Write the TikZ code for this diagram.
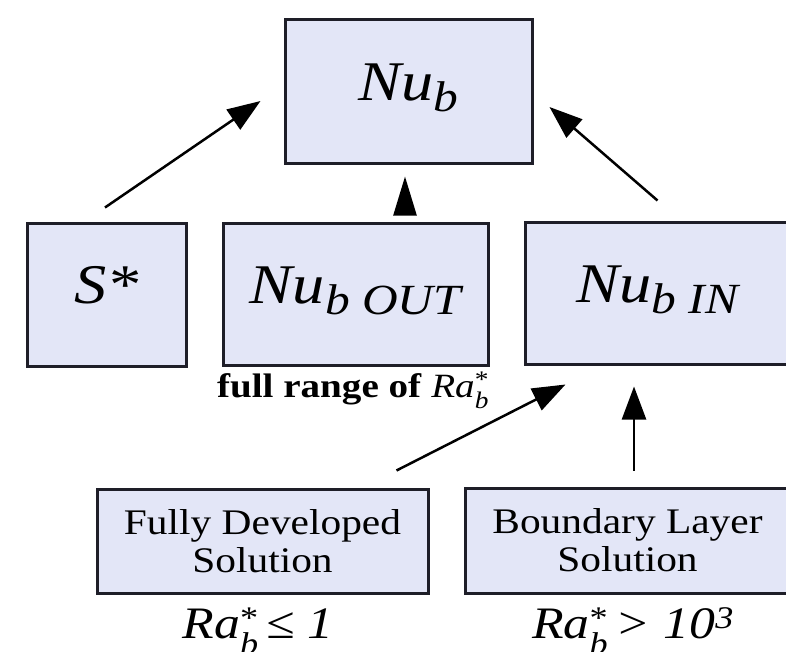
\documentclass[tikz,border=0pt]{standalone}
\usepackage{fontspec}
\usepackage{amsmath}
\setmainfont{Liberation Serif}[FakeStretch=1.15]
\usetikzlibrary{arrows.meta,calc}
\definecolor{boxfill}{HTML}{E3E6F7}
\definecolor{boxline}{HTML}{1E1E28}
\newcommand\lowsub[1]{\raisebox{-11pt}{\fontsize{43}{43}\selectfont\itshape #1}}
\newcommand\rastar{Ra$^{\text{\upshape *}}_{\text{\itshape b}}$}
\begin{document}
\begin{tikzpicture}[x=1pt,y=-1pt,
  bigbox/.style={draw=boxline, line width=3pt, fill=boxfill, inner sep=0pt,
    text height=18pt, text depth=0pt,
    font=\fontsize{56}{60}\selectfont\itshape},
  solbox/.style={draw=boxline, line width=3pt, fill=boxfill, inner sep=0pt,
    align=center, font=\fontsize{36}{38}\selectfont},
  arr/.style={draw=black, line width=2.5pt, -{Triangle[length=33pt,width=24pt]}},
  ralbl/.style={anchor=base, inner sep=0pt, font=\fontsize{45}{45}\selectfont\itshape},
  rangelbl/.style={anchor=base, inner sep=0pt, font=\fontsize{34}{34}\selectfont},
]
\useasboundingbox (0,0) rectangle (786,651);
\fill[white] (0,0) rectangle (786,651);

% boxes
\node[bigbox, minimum width=247pt, minimum height=144pt] (top) at (408.5,91)
  {Nu\lowsub{b}};
\node[bigbox, minimum width=159pt, minimum height=143pt] (S) at (106.5,294.5)
  {S*};
\node[bigbox, minimum width=265pt, minimum height=142pt] (Nout) at (355.5,294)
  {Nu\lowsub{b OUT}};
\node[bigbox, minimum width=265pt, minimum height=142pt] (Nin) at (657.5,293)
  {Nu\lowsub{b IN}};
\node[solbox, minimum width=331pt, minimum height=104pt] (FD) at (262.5,541)
  {Fully Developed\\Solution};
\node[solbox, minimum width=325pt, minimum height=105pt] (BL) at (627.5,540.5)
  {Boundary Layer\\Solution};

% labels
\node[rangelbl] (range) at (353,397)
  {\textbf{full range of} \textit{\rastar}};
\node[ralbl] (lowra) at (258,638) {\rastar\,≤ 1};
\node[ralbl] (highra) at (633,638) {\rastar\,> 10$^{\text{\itshape 3}}$};

% connectors
\draw[arr] ($(S.north)+(-1.5,-14)$) -- ($(top.west)+(-23,10)$);
\draw[arr, -{Triangle[length=39pt,width=23pt]}] ($(top.south |- Nout.north)+(-3.5,-9)$) -- ($(top.south)+(-3.5,12)$);
\draw[arr] ($(Nin.north)+(0,-20)$) -- ($(top.east)+(16,16)$);
\draw[arr] ($(FD.north east)+(-33,-17)$) -- ($(Nin.south west)+(42,19)$);
\draw[arr] ($(BL.north)+(6.5,-16)$) -- ($(BL.north |- Nin.south)+(6.5,21)$);
\end{tikzpicture}
\end{document}
